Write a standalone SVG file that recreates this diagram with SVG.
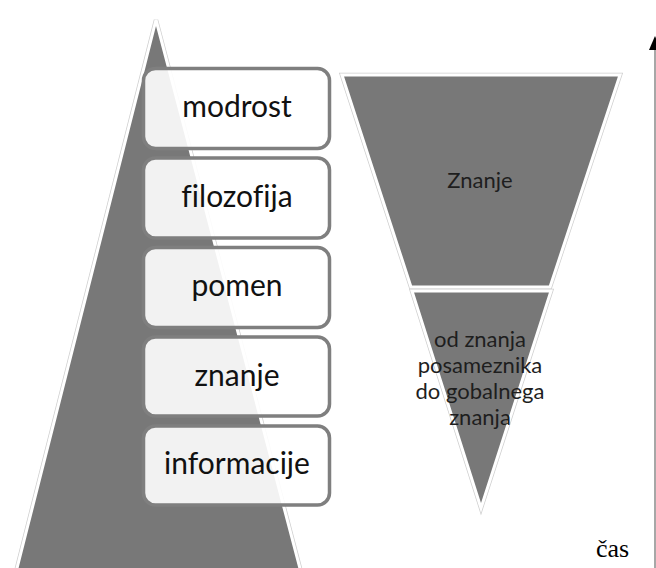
<svg xmlns="http://www.w3.org/2000/svg" width="656" height="568" viewBox="0 0 656 568">
  <style>
    .shape { fill: #787878; stroke: #ffffff; stroke-width: 3; stroke-linejoin: miter; }
    .halo { fill: none; stroke: #cfcfcf; stroke-width: 4.5; stroke-linejoin: miter; }
    .box { fill: #ffffff; fill-opacity: 0.9; stroke: #7f7f7f; stroke-width: 3.5; }
    .lbl { font-family: Lato, "Open Sans", sans-serif; font-size: 30px; fill: #111111; text-anchor: middle; font-variant-ligatures: none; }
    .flbl { font-family: Lato, "Open Sans", sans-serif; font-size: 22px; fill: #1e1e1e; text-anchor: middle; }
    .axis { stroke: #8a8a8a; stroke-width: 1.5; fill: none; }
    .axis-label { font-family: "Liberation Serif", "Times New Roman", serif; font-size: 26px; fill: #000000; }
  </style>
  <defs>
    <marker id="arrowhead" viewBox="0 0 14 12" refX="1" refY="6" markerWidth="14" markerHeight="12" markerUnits="userSpaceOnUse" orient="auto">
      <path d="M0,0 L14,6 L0,12 Z" fill="#000000"/>
    </marker>
  </defs>

  <rect width="656" height="568" fill="#ffffff"/>

  <!-- hierarchy pyramid behind the level boxes -->
  <g id="pyramid">
    <polygon class="halo" points="156,20 14,580 303,580"/>
    <polygon class="shape" points="156,20 14,580 303,580"/>
  </g>

  <!-- level boxes -->
  <g id="level-modrost">
    <rect class="box" x="143.5" y="68.5" width="186" height="80" rx="12"/>
    <text class="lbl" x="237" y="117">modrost</text>
  </g>
  <g id="level-filozofija">
    <rect class="box" x="143.5" y="158" width="186" height="80" rx="12"/>
    <text class="lbl" x="237" y="207">filozofija</text>
  </g>
  <g id="level-pomen">
    <rect class="box" x="143.5" y="247.5" width="186" height="80" rx="12"/>
    <text class="lbl" x="237" y="296">pomen</text>
  </g>
  <g id="level-znanje">
    <rect class="box" x="143.5" y="337" width="186" height="79" rx="12"/>
    <text class="lbl" x="237" y="386">znanje</text>
  </g>
  <g id="level-informacije">
    <rect class="box" x="143.5" y="426" width="186" height="79" rx="12"/>
    <text class="lbl" x="237" y="474">informacije</text>
  </g>

  <!-- funnel: upper section -->
  <g id="funnel-top">
    <polygon class="halo" points="342,75 620,75 550,287 411,287"/>
    <polygon class="shape" points="342,75 620,75 550,287 411,287"/>
    <text class="flbl" x="480" y="188">Znanje</text>
  </g>

  <!-- funnel: lower section -->
  <g id="funnel-bottom">
    <polygon class="halo" points="412,291 551,291 481,508"/>
    <polygon class="shape" points="412,291 551,291 481,508"/>
    <text class="flbl" x="480" y="347">od znanja</text>
    <text class="flbl" x="480" y="373">posameznika</text>
    <text class="flbl" x="480" y="399">do gobalnega</text>
    <text class="flbl" x="480" y="425">znanja</text>
  </g>

  <!-- time axis -->
  <g id="connectors">
    <line class="axis" x1="655" y1="568" x2="655" y2="49" marker-end="url(#arrowhead)"/>
  </g>
  <text class="axis-label" x="596" y="557">čas</text>
</svg>
